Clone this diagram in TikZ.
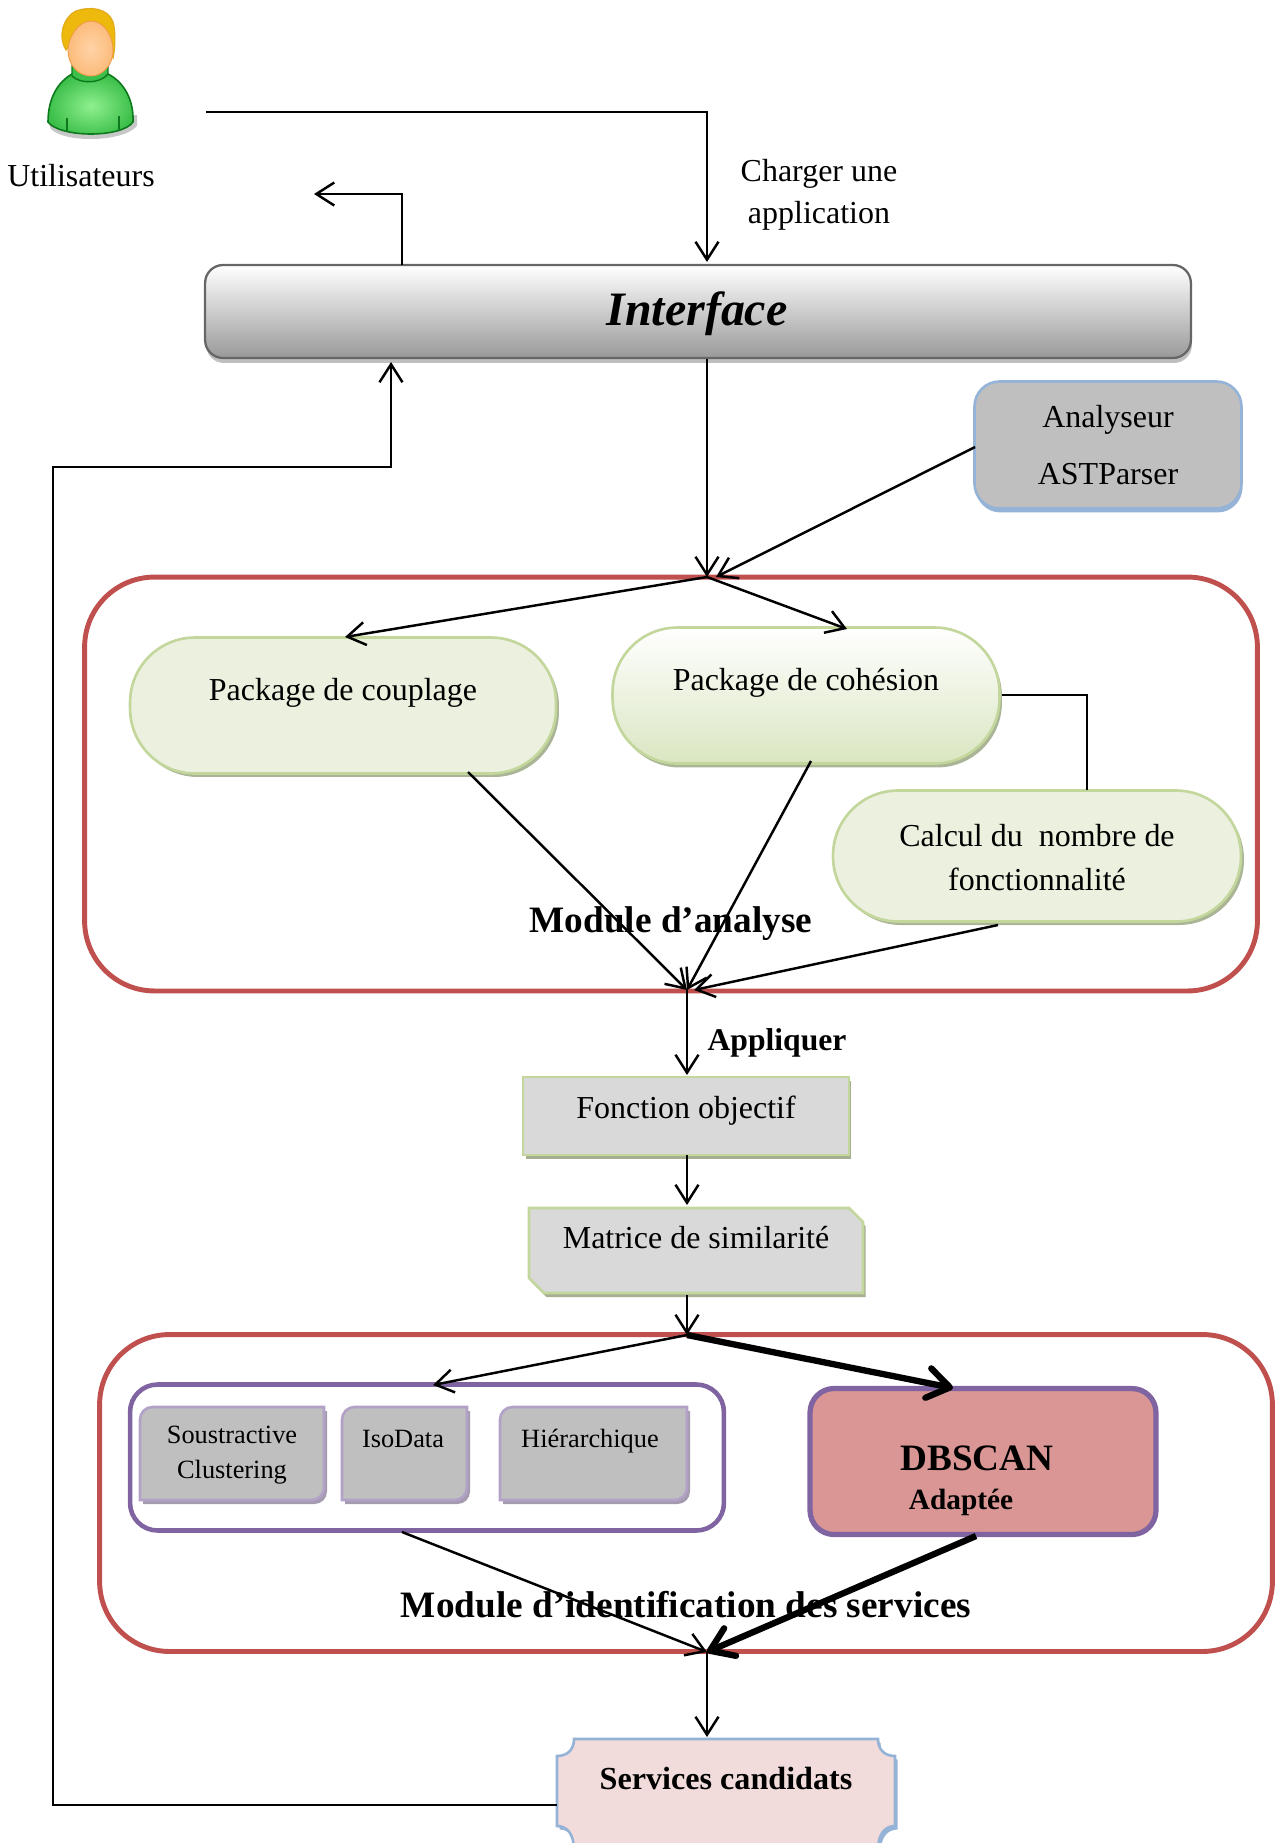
\documentclass[tikz,border=0pt]{standalone}
\usepackage{fontspec}
\setmainfont{Liberation Serif}
\usetikzlibrary{arrows.meta,shadows}
\tikzset{
  >={Straight Barb[length=3.6mm,width=4.6mm,line width=1.4pt]},
  fleche/.style={->,line width=1.4pt},
  grasse/.style={-{Straight Barb[length=4.4mm,width=6mm,line width=3.6pt,round]},line width=3.6pt},
  ligne/.style={line width=1.4pt},
  module/.style={draw=modrouge,line width=2.8pt,rounded corners=1.4cm},
  pilule/.style={draw=pilbord,fill=pilfond,line width=1.5pt,rounded corners=1.3cm,
    drop shadow={shadow xshift=0.06cm,shadow yshift=-0.07cm,fill=pilombre,opacity=1}},
  gris/.style={draw=pilbord,fill=grisclair,line width=1.5pt,
    drop shadow={shadow xshift=0.05cm,shadow yshift=-0.08cm,fill=grisombre,opacity=1}},
  algo/.style={draw=algobord,fill=grismoyen,line width=1.5pt,
    drop shadow={shadow xshift=0.06cm,shadow yshift=-0.08cm,fill=algoombre,opacity=1}},
  texte/.style={font=\fontsize{18.2}{24}\selectfont,align=center,inner sep=0pt},
  texteb/.style={font=\fontsize{21.2}{26}\selectfont\bfseries,inner sep=0pt},
  petit/.style={font=\fontsize{15}{19.5}\selectfont,align=center,inner sep=0pt}
}
\definecolor{modrouge}{HTML}{C0504D}
\definecolor{pilbord}{HTML}{C3D69B}
\definecolor{pilfond}{HTML}{EBF1DE}
\definecolor{pilombre}{HTML}{A9B596}
\definecolor{grisclair}{HTML}{D9D9D9}
\definecolor{grisombre}{HTML}{A6AE90}
\definecolor{grismoyen}{HTML}{BFBFBF}
\definecolor{algobord}{HTML}{B3A2C7}
\definecolor{algoombre}{HTML}{A59BB0}
\definecolor{violet}{HTML}{8064A2}
\definecolor{bleubord}{HTML}{95B3D7}
\definecolor{dbfond}{HTML}{D99694}
\definecolor{servfond}{HTML}{F2DCDB}
\definecolor{pull}{HTML}{3CBF4A}
\definecolor{pullclair}{HTML}{8FF08F}
\definecolor{pullbord}{HTML}{0C7A1C}
\definecolor{cheveux}{HTML}{EDB90C}
\definecolor{peau}{HTML}{FFC489}
\definecolor{peaubord}{HTML}{F09A45}

\begin{document}
\begin{tikzpicture}[x=0.02cm,y=-0.02cm]
  \clip (0,0) rectangle (1277,1843);

  % utilisateur
  \fill[black!22] (50,128) .. controls (62,143) and (122,143) .. (137,126) -- (137,115) -- (50,115) -- cycle;
  \draw[pullbord,inner color=pullclair,outer color=pull,line width=0.9pt] (48,122)
    .. controls (48,98) and (58,82) .. (72,74) -- (108,74)
    .. controls (124,82) and (134,100) .. (133,122)
    .. controls (122,138) and (60,138) .. (48,122) -- cycle;
  \draw[pullbord,fill=pull,line width=0.8pt] (72,66) -- (72,76) .. controls (80,84) and (100,84) .. (108,74) -- (108,66) -- cycle;
  \draw[pullbord,line width=0.8pt] (67,118) -- (67,131) (119,116) -- (119,130);
  \draw[cheveux!75!brown,fill=cheveux,line width=0.7pt] (66,50) .. controls (58,38) and (62,18) .. (76,11)
    .. controls (90,6) and (108,8) .. (113,22) .. controls (116,32) and (115,50) .. (113,58)
    -- (100,28) -- (78,28) -- (72,42) -- cycle;
  \draw[peaubord,inner color=peau!75!white,outer color=peau!80!peaubord,line width=0.5pt] (91,21)
    .. controls (104,21) and (113,36) .. (113,50)
    .. controls (113,66) and (102,76) .. (91,76) .. controls (79,76) and (68,66) .. (68,50)
    .. controls (68,38) and (78,21) .. (91,21) -- cycle;
  \node[texte] (utilisateurs) at (81,176) {Utilisateurs};

  % interface
  \node[draw=black!60,line width=1.3pt,rounded corners=0.36cm,minimum width=19.72cm,minimum height=1.86cm,
    inner sep=0pt,top color=white,bottom color=black!40,
    drop shadow={shadow xshift=0.02cm,shadow yshift=-0.1cm,fill=black!25,opacity=1}] (interface) at (698,311.5) {};
  \node[font=\fontsize{27.3}{30}\selectfont\bfseries\itshape,inner sep=0pt] (nomInterface) at (697,314) {Interface};

  \node[draw=bleubord,fill=grismoyen,line width=1.5pt,rounded corners=0.5cm,minimum width=5.34cm,minimum height=2.54cm,
    inner sep=0pt,drop shadow={shadow xshift=0.02cm,shadow yshift=-0.08cm,fill=bleubord,opacity=1}] (analyseur) at (1108,445) {};
  \node[texte,font=\fontsize{18.2}{32}\selectfont] (nomAnalyseur) at (1108,445) {Analyseur\\ASTParser};

  % module d'analyse
  \node[module,minimum width=23.46cm,minimum height=8.28cm,inner sep=0pt] (analyse) at (671,784) {};
  \node[pilule,minimum width=8.52cm,minimum height=2.72cm,inner sep=0pt] (couplage) at (343,705.5) {};
  \node[texte] (nomCouplage) at (343,693) {Package de couplage};
  \node[draw=pilbord,line width=1.5pt,rounded corners=1.3cm,minimum width=7.74cm,minimum height=2.72cm,inner sep=0pt,
    top color=white,bottom color=pilbord!62!white,
    drop shadow={shadow xshift=0.05cm,shadow yshift=-0.08cm,fill=pilombre,opacity=1}] (cohesion) at (806,695.5) {};
  \node[texte] (nomCohesion) at (806,683) {Package de cohésion};
  \node[pilule,minimum width=8.16cm,minimum height=2.62cm,inner sep=0pt] (calcul) at (1037,856) {};
  \node[texte,font=\fontsize{18.2}{25}\selectfont] (nomCalcul) at (1037,858) {Calcul du\ \ nombre de\\fonctionnalité};

  % module d'identification
  \node[module,minimum width=23.46cm,minimum height=6.34cm,inner sep=0pt] (identification) at (686,1493) {};
  \node[draw=violet,line width=2.6pt,rounded corners=0.55cm,minimum width=11.88cm,minimum height=2.92cm,inner sep=0pt] (cadre) at (427,1457.5) {};
  \path[algo,rounded corners=0.25cm] (140,1500) -- (140,1407) [sharp corners] -- (324,1407) [rounded corners=0.25cm] -- (324,1500) [sharp corners] -- cycle;
  \path[algo,rounded corners=0.25cm] (342,1500) -- (342,1407) [sharp corners] -- (467,1407) [rounded corners=0.25cm] -- (467,1500) [sharp corners] -- cycle;
  \path[algo,rounded corners=0.25cm] (500,1500) -- (500,1407) [sharp corners] -- (687,1407) [rounded corners=0.25cm] -- (687,1500) [sharp corners] -- cycle;
  \node[petit] (soustractive) at (232,1455) {Soustractive\\Clustering};
  \node[petit] (isodata) at (403,1439) {IsoData};
  \node[petit] (hierarchique) at (590,1441) {Hiérarchique};
  \node[draw=violet,fill=dbfond,line width=3pt,rounded corners=0.48cm,minimum width=6.92cm,minimum height=2.92cm,inner sep=0pt] (dbscan) at (983,1461.5) {};
  \node[texteb] (nomDbscan) at (977,1458) {DBSCAN};
  \node[font=\fontsize{16.7}{20}\selectfont\bfseries,inner sep=0pt] (adaptee) at (961,1502) {Adaptée};

  % fonction objectif, matrice
  \node[gris,minimum width=6.52cm,minimum height=1.56cm,inner sep=0pt] (fonction) at (686,1116) {};
  \node[texte] (nomFonction) at (686,1111) {Fonction objectif};
  \path[gris] (529,1208) -- (849,1208) -- (863,1222) -- (863,1293) -- (544,1293) -- (529,1278) -- cycle;
  \node[texte] (nomMatrice) at (696,1238) {Matrice de similarité};

  % services
  \path[draw=bleubord,fill=servfond,line width=1.5pt,
    drop shadow={shadow xshift=0.05cm,shadow yshift=-0.07cm,fill=bleubord,opacity=1}]
    (557,1756) .. controls (567,1756) and (574,1750) .. (574,1739) -- (878,1739)
    .. controls (878,1750) and (885,1756) .. (895,1756) -- (895,1826)
    .. controls (885,1826) and (878,1834) .. (878,1850) -- (574,1850)
    .. controls (574,1834) and (567,1826) .. (557,1826) -- cycle;
  \node[font=\fontsize{18.3}{24}\selectfont\bfseries,inner sep=0pt] (nomServices) at (726,1778) {Services candidats};

  % points de passage
  \coordinate (depart) at (206,112);
  \coordinate (angleHaut) at (707,112);
  \coordinate (interN) at (707,262);
  \coordinate (sortie) at (402,265);
  \coordinate (sortieH) at (402,194);
  \coordinate (sortieG) at (314,194);
  \coordinate (retourN) at (391,362);
  \coordinate (retourH) at (391,467);
  \coordinate (retourG) at (53,467);
  \coordinate (retourB) at (53,1805);
  \coordinate (servicesO) at (557,1805);
  \coordinate (servicesN) at (707,1737);
  \coordinate (interS) at (707,359);
  \coordinate (entreeA) at (707,577);
  \coordinate (analyseurO) at (975,447);
  \coordinate (entreeB) at (716,577);
  \coordinate (coupN) at (345,637);
  \coordinate (cohN) at (847,629);
  \coordinate (cohE) at (1002,695);
  \coordinate (cohCoude) at (1087,695);
  \coordinate (calcN) at (1087,790);
  \coordinate (coupS) at (468,772);
  \coordinate (cohS) at (811,761);
  \coordinate (calcS) at (998,925);
  \coordinate (sortieA) at (687,990);
  \coordinate (sortieB) at (694,990);
  \coordinate (fonctN) at (687,1075);
  \coordinate (fonctS) at (687,1155);
  \coordinate (matN) at (687,1205);
  \coordinate (matS) at (687,1295);
  \coordinate (identN) at (687,1335);
  \coordinate (cadreN) at (433,1385);
  \coordinate (dbN) at (953,1388);
  \coordinate (cadreS) at (402,1532);
  \coordinate (dbS) at (976,1536);
  \coordinate (identS) at (707,1652);

  \draw[fleche] (depart) -- (angleHaut) -- (interN);
  \draw[fleche] (sortie) -- (sortieH) -- (sortieG);
  \draw[fleche] (servicesO) -- (retourB) -- (retourG) -- (retourH) -- (retourN);
  \draw[fleche] (interS) -- (entreeA);
  \draw[fleche] (analyseurO) -- (entreeB);
  \draw[fleche] (entreeA) -- (coupN);
  \draw[fleche] (entreeA) -- (cohN);
  \draw[ligne] (cohE) -- (cohCoude) -- (calcN);
  \draw[fleche] (coupS) -- (sortieA);
  \draw[fleche] (cohS) -- (sortieA);
  \draw[fleche] (calcS) -- (sortieB);
  \draw[fleche] (sortieA) -- (fonctN);
  \draw[fleche] (fonctS) -- (matN);
  \draw[fleche] (matS) -- (identN);
  \draw[fleche] (identN) -- (cadreN);
  \draw[grasse] (identN) -- (dbN);
  \draw[fleche] (cadreS) -- (identS);
  \draw[grasse] (dbS) -- (identS);
  \draw[fleche] (identS) -- (servicesN);

  \node[texteb] (nomAnalyse) at (671,924) {Module d’analyse};
  \node[texteb] (nomIdentification) at (686,1605) {Module d’identification des services};
  \node[font=\fontsize{18}{22}\selectfont\bfseries,inner sep=0pt] (appliquer) at (777,1043) {Appliquer};
  \node[texte] (charger) at (819,195) {Charger une\\application};
\end{tikzpicture}
\end{document}
